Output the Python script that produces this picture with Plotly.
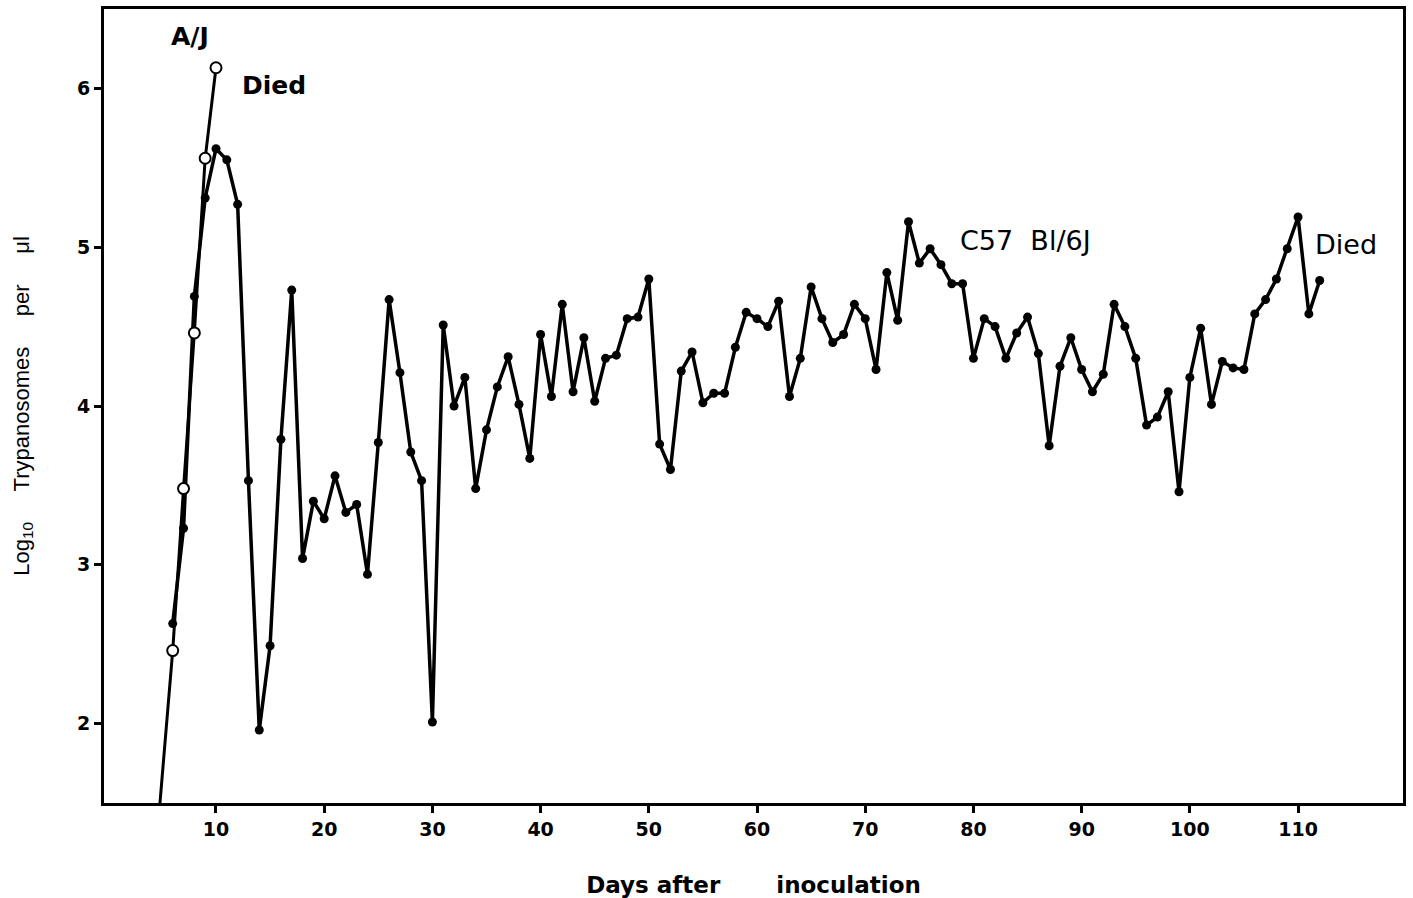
import plotly.graph_objects as go

# C57 Bl/6J (filled circles): day -> log10 trypanosomes per µl
c57_days = list(range(6, 113))
c57_values = [
    2.63, 3.23, 4.69, 5.31, 5.62, 5.55, 5.27, 3.53, 1.96, 2.49,   # 6-15
    3.79, 4.73, 3.04, 3.40, 3.29, 3.56, 3.33, 3.38, 2.94, 3.77,   # 16-25
    4.67, 4.21, 3.71, 3.53, 2.01, 4.51, 4.00, 4.18, 3.48, 3.85,   # 26-35
    4.12, 4.31, 4.01, 3.67, 4.45, 4.06, 4.64, 4.09, 4.43, 4.03,   # 36-45
    4.30, 4.32, 4.55, 4.56, 4.80, 3.76, 3.60, 4.22, 4.34, 4.02,   # 46-55
    4.08, 4.08, 4.37, 4.59, 4.55, 4.50, 4.66, 4.06, 4.30, 4.75,   # 56-65
    4.55, 4.40, 4.45, 4.64, 4.55, 4.23, 4.84, 4.54, 5.16, 4.90,   # 66-75
    4.99, 4.89, 4.77, 4.77, 4.30, 4.55, 4.50, 4.30, 4.46, 4.56,   # 76-85
    4.33, 3.75, 4.25, 4.43, 4.23, 4.09, 4.20, 4.64, 4.50, 4.30,   # 86-95
    3.88, 3.93, 4.09, 3.46, 4.18, 4.49, 4.01, 4.28, 4.24, 4.23,   # 96-105
    4.58, 4.67, 4.80, 4.99, 5.19, 4.58, 4.79,                     # 106-112
]

# A/J (open circles); first point lies below the plotted range
aj_days = [4, 6, 7, 8, 9, 10]
aj_values = [0.83, 2.46, 3.48, 4.46, 5.56, 6.13]

x_ticks = [10, 20, 30, 40, 50, 60, 70, 80, 90, 100, 110]
y_ticks = [2, 3, 4, 5, 6]

SANS = "Liberation Sans"
WIDE = "DejaVu Sans"
NB = "\u00a0"

fig = go.Figure()
fig.add_trace(go.Scatter(
    x=c57_days, y=c57_values, mode="lines+markers", name="C57 Bl/6J",
    line=dict(color="black", width=3.5),
    marker=dict(symbol="circle", size=9, color="black"),
    showlegend=False,
))
fig.add_trace(go.Scatter(
    x=aj_days, y=aj_values, mode="lines+markers", name="A/J",
    line=dict(color="black", width=3),
    marker=dict(symbol="circle", size=11, color="white",
                line=dict(color="black", width=2)),
    showlegend=False,
))

fig.add_annotation(x=7.6, y=6.33, text="<b>A/J</b>", showarrow=False,
                   font=dict(family=WIDE, size=25, color="black"))
fig.add_annotation(x=12.2, y=6.02, text="<b>Died</b>", showarrow=False,
                   xanchor="left", font=dict(family=WIDE, size=25, color="black"))
fig.add_annotation(x=78.6, y=5.04, text="C57" + NB * 2 + "Bl/6J", showarrow=False,
                   xanchor="left", font=dict(family=WIDE, size=27, color="black"))
fig.add_annotation(x=111.4, y=5.02, text="Died", showarrow=False,
                   xanchor="left", font=dict(family=WIDE, size=27, color="black"))

fig.update_layout(
    width=1413, height=898,
    margin=dict(l=104, r=10, t=9, b=95, autoexpand=False),
    paper_bgcolor="white", plot_bgcolor="white",
    font=dict(family=SANS, color="black"),
)
fig.update_xaxes(
    range=[-0.35, 119.7], tickvals=x_ticks, ticktext=[str(v) for v in x_ticks],
    ticks="outside", ticklen=7, tickwidth=3, tickcolor="black",
    showline=True, linewidth=3, linecolor="black", mirror=True,
    showgrid=False, zeroline=False, automargin=False,
    tickfont=dict(family=WIDE, size=19, color="black", weight="bold"),
    title=dict(text="<b>Days after" + NB * 7 + "inoculation</b>",
               font=dict(family=WIDE, size=23, color="black"), standoff=40),
)
fig.update_yaxes(
    range=[1.5, 6.5], tickvals=y_ticks, ticktext=[str(v) for v in y_ticks],
    ticks="outside", ticklen=7, tickwidth=3, tickcolor="black",
    showline=True, linewidth=3, linecolor="black", mirror=True,
    showgrid=False, zeroline=False, automargin=False,
    tickfont=dict(family=WIDE, size=19, color="black", weight="bold"),
    title=dict(text="Log<sub>10</sub>" + NB * 5 + "Trypanosomes" + NB * 5 + "per"
                    + NB * 5 + "\u03bcl",
               font=dict(family=SANS, size=22, color="black"), standoff=42),
)

fig.write_html("out.html")
